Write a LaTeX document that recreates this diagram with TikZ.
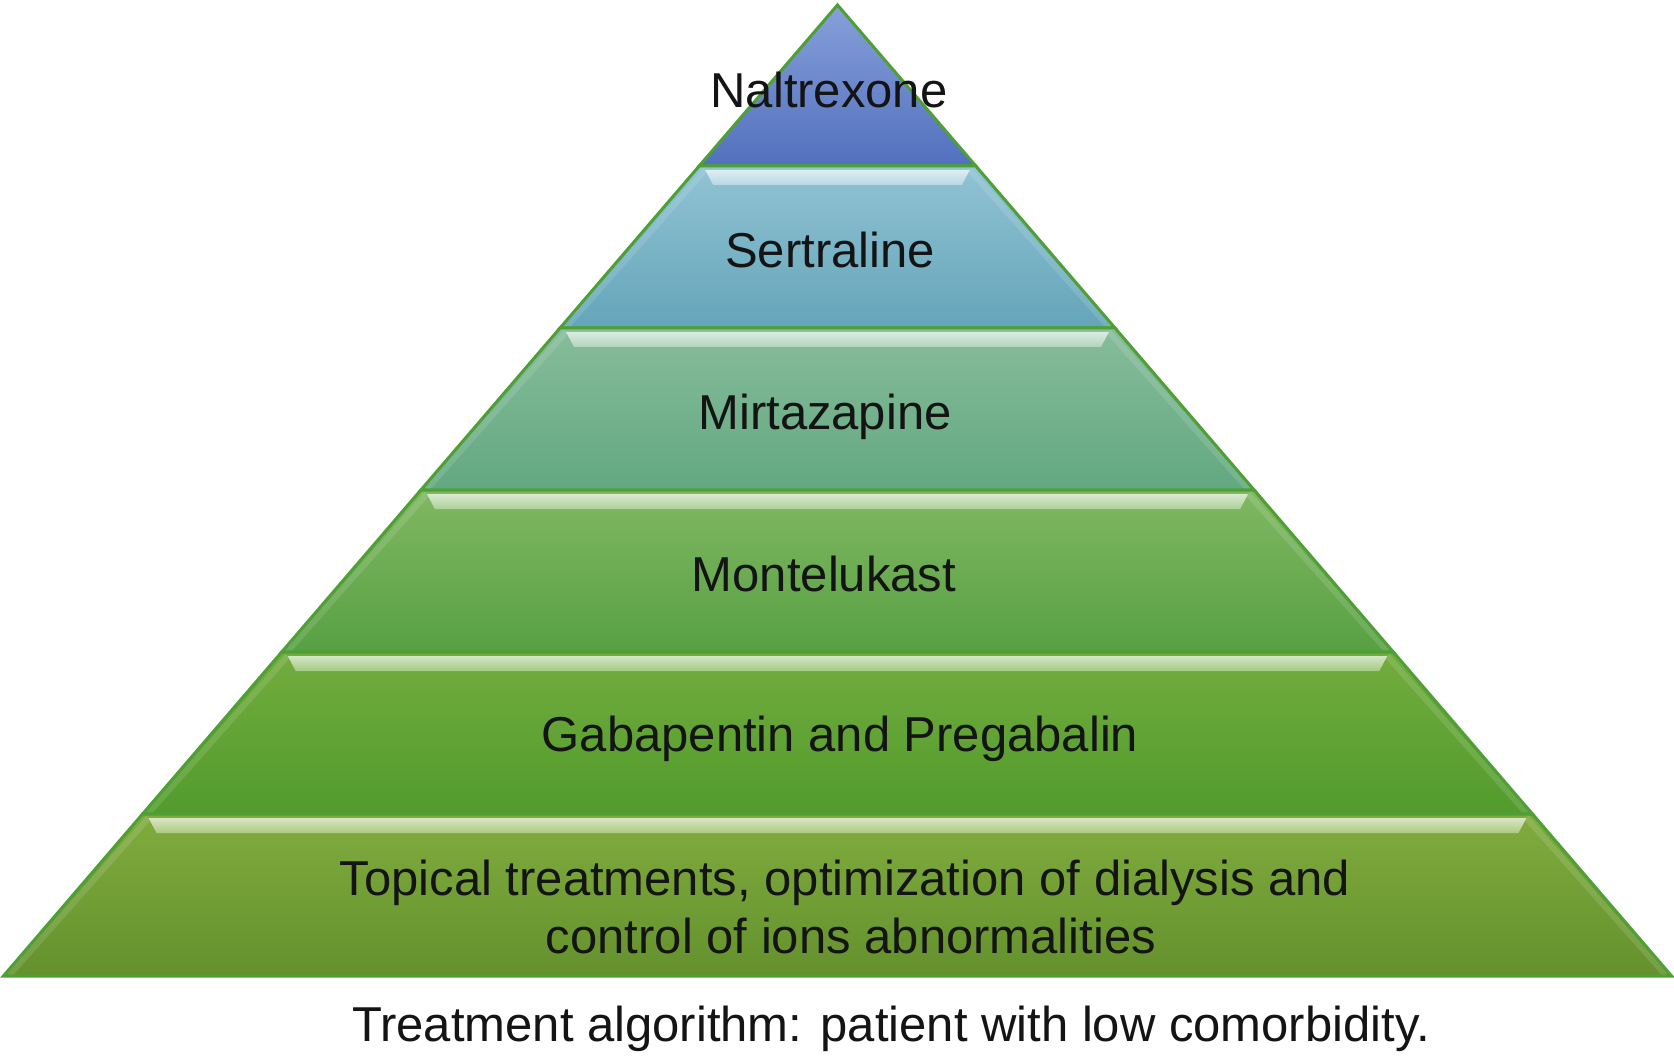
\documentclass[tikz,border=0pt]{standalone}
\usepackage{fontspec}
\setmainfont{Liberation Sans}
\definecolor{nalT}{RGB}{135,160,218}\definecolor{nalB}{RGB}{82,112,190}
\definecolor{serT}{RGB}{145,195,212}\definecolor{serB}{RGB}{100,165,185}
\definecolor{mirT}{RGB}{135,188,155}\definecolor{mirB}{RGB}{98,168,128}
\definecolor{monT}{RGB}{128,184,98}\definecolor{monB}{RGB}{88,160,68}
\definecolor{gabT}{RGB}{115,172,62}\definecolor{gabB}{RGB}{82,155,45}
\definecolor{topT}{RGB}{128,172,62}\definecolor{topB}{RGB}{100,145,45}
\definecolor{edgegreen}{RGB}{78,160,52}
\definecolor{txt}{RGB}{20,20,20}
\begin{document}
\begin{tikzpicture}[x=1pt,y=-1pt,
  bandedge/.style={draw=edgegreen,line width=3pt,line join=miter},
  bevel/.style={white,opacity=0.12,line width=6pt},
  lbl/.style={text=txt,font=\fontsize{49}{58}\selectfont,inner sep=0pt,anchor=base}]
\useasboundingbox[fill=white] (0,0) rectangle (1674,1064);
\def\ax{837.5}\def\ay{5}\def\sl{0.859}
% bands
\foreach \yt/\yb/\ct/\cb [count=\i] in {5/166/nalT/nalB,166/328/serT/serB,328/490/mirT/mirB,490/652/monT/monB,652/814/gabT/gabB,814/976/topT/topB}{
  \pgfmathsetmacro\xlt{\ax-\sl*(\yt-\ay)}
  \pgfmathsetmacro\xrt{\ax+\sl*(\yt-\ay)}
  \pgfmathsetmacro\xlb{\ax-\sl*(\yb-\ay)}
  \pgfmathsetmacro\xrb{\ax+\sl*(\yb-\ay)}
  \shade[top color=\ct,bottom color=\cb] (\xlt,\yt) -- (\xrt,\yt) -- (\xrb,\yb) -- (\xlb,\yb) -- cycle;
  \ifnum\i>1
    % soft bevel along the slanted sides
    \draw[bevel] (\xlt+6,\yt+4) -- (\xlb+6,\yb-1);
    \draw[bevel] (\xrt-6,\yt+4) -- (\xrb-6,\yb-1);
    % glossy strip below the top edge
    \shade[top color=white!70!\ct,bottom color=white!35!\ct]
      (\xlt+6,\yt+4) -- (\xrt-6,\yt+4) -- (\xrt-14,\yt+19) -- (\xlt+14,\yt+19) -- cycle;
  \fi
  \draw[bandedge] (\xlt,\yt) -- (\xrt,\yt) -- (\xrb,\yb) -- (\xlb,\yb) -- cycle;
}
% labels
\node[lbl] (nal) at (829,108) {Naltrexone};
\node[lbl] (ser) at (830,268) {Sertraline};
\node[lbl] (mir) at (825,430) {Mirtazapine};
\node[lbl] (mon) at (824,591) {Montelukast};
\node[lbl] (gab) at (840,751) {Gabapentin and Pregabalin};
\node[lbl] (topa) at (845,895) {Topical treatments, optimization of dialysis and};
\node[lbl] (topb) at (851,953) {control of ions abnormalities};
\node[lbl] (cap) at (891,1041) {Treatment algorithm: patient with low comorbidity.};
\end{tikzpicture}
\end{document}
